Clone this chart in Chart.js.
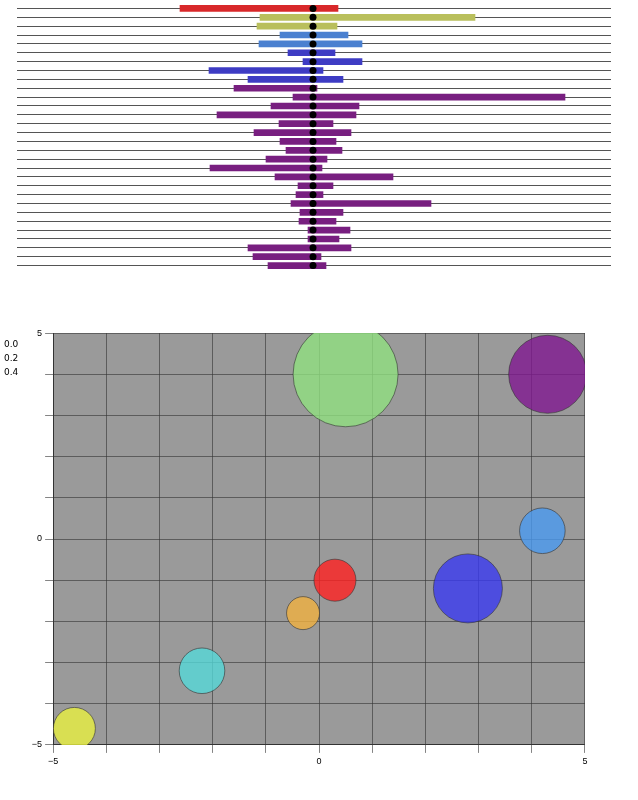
<!DOCTYPE html>
<html>
<head>
<meta charset="utf-8">
<script src="https://cdn.jsdelivr.net/npm/chart.js@4.4.1/dist/chart.umd.min.js"></script>
<style>
  body { margin: 0; background: #fff; font-family: "DejaVu Sans", sans-serif; }
  #top { position: absolute; left: 0; top: 0; width: 638px; height: 276px; }
  #bottom { position: absolute; left: 0; top: 280px; width: 638px; height: 518px; }
</style>
</head>
<body>
<div id="top"><canvas id="bars"></canvas></div>
<div id="bottom"><canvas id="surface"></canvas></div>
<script>
// intervals around the centre (one per row, top to bottom)
const lows  = [-133, -53, -56, -33, -54, -25, -10, -104, -65, -79, -20, -42, -96, -34, -59,
               -33, -27, -47, -103, -38, -15, -17, -22, -13, -14, -5, -5, -65, -60, -45];
const highs = [25, 162, 24, 35, 49, 22, 49, 10, 30, 4, 252, 46, 43, 20, 38,
               23, 29, 14, 9, 80, 20, 10, 118, 30, 23, 37, 26, 38, 8, 13];
const groups = [0, 1, 1, 2, 2, 3, 3, 3, 3, 4, 4, 4, 4, 4, 4,
                4, 4, 4, 4, 4, 4, 4, 4, 4, 4, 4, 4, 4, 4, 4];
const groupColors = ['#d8282a', '#b9bf5c', '#4a80d0', '#3e3cc4', '#781f80'];
const rows = lows.map((_, i) => 'r' + i);

new Chart(document.getElementById('bars'), {
  type: 'bar',
  data: {
    labels: rows,
    datasets: [
      {
        type: 'line',
        indexAxis: 'y',
        data: rows.map(r => ({ x: 0, y: r })),
        showLine: false,
        pointRadius: 3.5,
        pointBackgroundColor: '#000',
        pointBorderWidth: 0,
        order: 0
      },
      {
        data: rows.map((r, i) => ({ y: r, x: [lows[i], highs[i]] })),
        backgroundColor: groups.map(g => groupColors[g]),
        barThickness: 6,
        order: 1
      }
    ]
  },
  options: {
    indexAxis: 'y',
    responsive: true,
    maintainAspectRatio: false,
    animation: false,
    layout: { padding: { left: 17, right: 27, top: 4, bottom: 6 } },
    plugins: { legend: { display: false }, tooltip: { enabled: false } },
    scales: {
      x: { min: -296, max: 298, display: false },
      y: {
        display: true,
        offset: true,
        ticks: { display: false },
        border: { display: false },
        grid: { offset: false, color: '#555', lineWidth: 1, drawTicks: false }
      }
    }
  }
});

// peaks of the surface: position, height, colour
const peakX = [-4.6, -2.2, 0.3, -0.3, 2.8, 4.2, 0.5, 4.3];
const peakY = [-4.6, -3.2, -1.0, -1.8, -1.2, 0.2, 4.0, 4.0];
const peakZ = [0.10, 0.12, 0.10, 0.05, 0.25, 0.12, 0.45, 0.30];
const peakColors = ['#e8f040', '#55d8d8', '#ff2020', '#f0b040', '#3a3af0', '#4a9af0', '#90e080', '#801890'];
const zTicks = [0.0, 0.2, 0.4];

new Chart(document.getElementById('surface'), {
  type: 'bubble',
  data: {
    datasets: [{
      data: peakX.map((x, i) => ({ x: x, y: peakY[i], r: 12 + peakZ[i] * 90 })),
      backgroundColor: peakColors.map(c => c + 'cc'),
      borderColor: '#333',
      borderWidth: 0.6
    }]
  },
  options: {
    responsive: true,
    maintainAspectRatio: false,
    animation: false,
    layout: { padding: { left: 10, right: 20, top: 10, bottom: 4 } },
    plugins: { legend: { display: false }, tooltip: { enabled: false } },
    scales: {
      x: {
        min: -5, max: 5,
        ticks: { stepSize: 1, color: '#000', font: { size: 9 },
                 callback: v => (v === -5 || v === 0 || v === 5) ? String(v).replace('-', '\u2212') : '' },
        grid: { color: '#333', lineWidth: 0.6 },
        border: { color: '#333' }
      },
      y: {
        min: -5, max: 5,
        ticks: { stepSize: 1, color: '#000', font: { size: 9 },
                 callback: v => (v === -5 || v === 0 || v === 5) ? String(v).replace('-', '\u2212') : '' },
        grid: { color: '#333', lineWidth: 0.6 },
        border: { color: '#333' }
      }
    }
  },
  plugins: [{
    id: 'surfaceBg',
    beforeDraw(chart) {
      const a = chart.chartArea, ctx = chart.ctx;
      ctx.save();
      ctx.fillStyle = '#9a9a9a';
      ctx.fillRect(a.left, a.top, a.right - a.left, a.bottom - a.top);
      ctx.fillStyle = '#000';
      ctx.font = '9px "DejaVu Sans"';
      zTicks.forEach((z, i) => ctx.fillText(z.toFixed(1), 4, a.top + 14 + i * 14));
      ctx.restore();
    }
  }]
});
</script>
</body>
</html>
